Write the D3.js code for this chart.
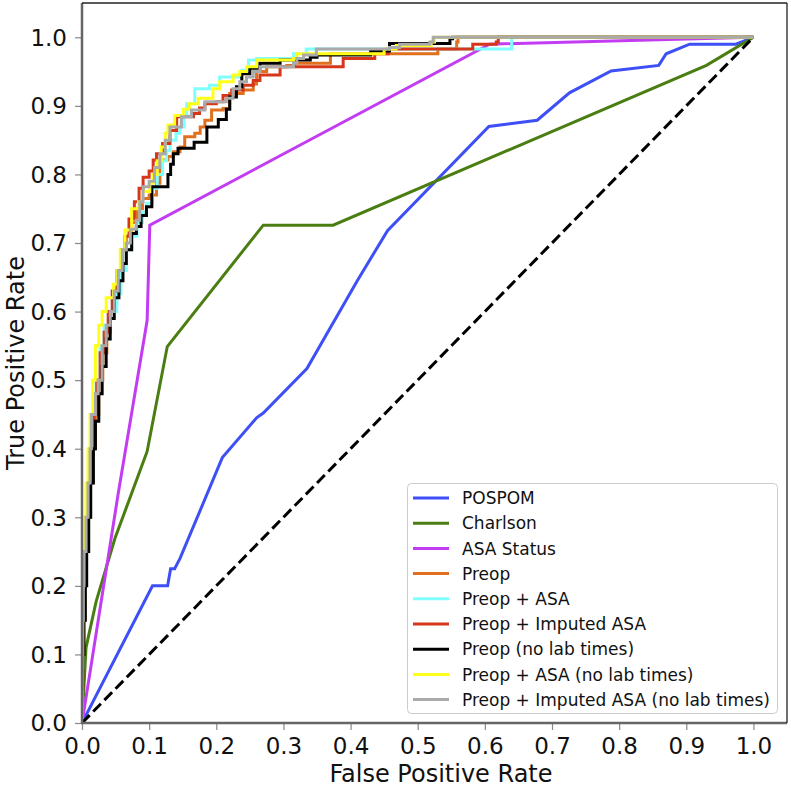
<!DOCTYPE html>
<html><head><meta charset="utf-8">
<script src="https://cdn.jsdelivr.net/npm/d3@7"></script>
<style>body{margin:0;background:#fff}svg{display:block}text{font-family:"DejaVu Sans",sans-serif}</style>
</head><body><svg id="c" width="791" height="787"></svg>
<script>
const tickValues = [0,0.1,0.2,0.3,0.4,0.5,0.6,0.7,0.8,0.9,1.0];
const seriesNames = ["POSPOM","Charlson","ASA Status","Preop","Preop + ASA","Preop + Imputed ASA","Preop (no lab times)","Preop + ASA (no lab times)","Preop + Imputed ASA (no lab times)"];
const seriesColors = ["#3d4ff5","#4a7d12","#c23cf2","#e0701e","#80ffff","#d6361a","#000000","#ffff1a","#aaaaaa"];

const pospom = [[0,0],[0.105,0.2],[0.1275,0.2],[0.132,0.225],[0.138,0.225],[0.146,0.24],[0.209,0.387],[0.26,0.445],[0.27,0.452],[0.335,0.517],[0.41,0.645],[0.455,0.718],[0.606,0.87],[0.678,0.879],[0.726,0.919],[0.788,0.951],[0.859,0.959],[0.87,0.976],[0.905,0.99],[0.974,0.99],[1,1]];
const charlson = [[0,0],[0.006,0.11],[0.021,0.177],[0.049,0.269],[0.097,0.396],[0.127,0.549],[0.27,0.726],[0.374,0.726],[0.93,0.959],[1,1]];
const asaStatus = [[0,0],[0.054,0.335],[0.097,0.587],[0.101,0.726],[0.607,0.99],[1,1]];

const preop = [[0,0],[0,0.05],[0.001,0.1],[0.002,0.15],[0.004,0.2],[0.006,0.25],[0.009,0.3],[0.012,0.35],[0.016,0.4],[0.02,0.45],[0.025,0.5],[0.031,0.54],[0.037,0.57],[0.042,0.6],[0.048,0.63],[0.054,0.66],[0.06,0.69],[0.066,0.71],[0.074,0.73],[0.082,0.75],[0.09,0.765],[0.1,0.77],[0.111,0.787],[0.116,0.821],[0.128,0.826],[0.136,0.833],[0.146,0.84],[0.153,0.855],[0.168,0.86],[0.176,0.869],[0.183,0.879],[0.193,0.894],[0.21,0.896],[0.22,0.918],[0.24,0.923],[0.255,0.932],[0.26,0.95],[0.275,0.957],[0.305,0.959],[0.317,0.962],[0.37,0.976],[0.53,0.983],[0.558,0.993],[0.56,1.0],[1,1]];
const preopAsa = [[0,0],[0,0.08],[0.001,0.15],[0.002,0.2],[0.003,0.25],[0.005,0.3],[0.008,0.35],[0.012,0.4],[0.016,0.45],[0.021,0.5],[0.027,0.55],[0.033,0.58],[0.04,0.6],[0.052,0.626],[0.058,0.66],[0.066,0.69],[0.074,0.71],[0.082,0.73],[0.09,0.745],[0.096,0.758],[0.105,0.78],[0.112,0.8],[0.12,0.82],[0.126,0.835],[0.131,0.85],[0.14,0.86],[0.146,0.869],[0.152,0.885],[0.156,0.903],[0.168,0.925],[0.19,0.93],[0.205,0.942],[0.238,0.952],[0.248,0.967],[0.26,0.969],[0.315,0.976],[0.334,0.983],[0.63,0.983],[0.64,1.0],[1,1]];
const preopImp = [[0,0],[0,0.1],[0.001,0.21],[0.003,0.25],[0.006,0.3],[0.009,0.35],[0.013,0.4],[0.018,0.45],[0.022,0.5],[0.027,0.54],[0.033,0.57],[0.039,0.6],[0.045,0.63],[0.052,0.66],[0.058,0.69],[0.064,0.71],[0.07,0.735],[0.078,0.76],[0.085,0.78],[0.091,0.796],[0.1,0.805],[0.106,0.821],[0.111,0.83],[0.12,0.845],[0.131,0.864],[0.141,0.884],[0.166,0.889],[0.175,0.897],[0.183,0.903],[0.2,0.906],[0.21,0.915],[0.223,0.923],[0.24,0.93],[0.255,0.937],[0.265,0.945],[0.295,0.957],[0.389,0.969],[0.436,0.976],[0.456,0.983],[0.582,0.99],[0.617,0.993],[0.62,1.0],[1,1]];
const preopNoLab = [[0,0],[0,0.05],[0.001,0.1],[0.003,0.15],[0.005,0.2],[0.007,0.25],[0.01,0.3],[0.013,0.35],[0.017,0.4],[0.02,0.44],[0.025,0.48],[0.03,0.52],[0.036,0.56],[0.042,0.59],[0.048,0.62],[0.055,0.645],[0.061,0.67],[0.066,0.69],[0.074,0.714],[0.081,0.724],[0.088,0.74],[0.096,0.753],[0.104,0.782],[0.128,0.8],[0.132,0.815],[0.136,0.83],[0.143,0.838],[0.167,0.847],[0.186,0.869],[0.203,0.88],[0.215,0.895],[0.22,0.913],[0.23,0.928],[0.238,0.947],[0.25,0.955],[0.265,0.962],[0.295,0.967],[0.34,0.971],[0.35,0.974],[0.43,0.98],[0.458,0.991],[0.548,0.998],[0.552,1.0],[1,1]];
const preopAsaNoLab = [[0,0],[0,0.1],[0.001,0.2],[0.002,0.25],[0.004,0.3],[0.006,0.35],[0.009,0.4],[0.012,0.45],[0.016,0.5],[0.02,0.55],[0.025,0.58],[0.03,0.6],[0.036,0.62],[0.047,0.64],[0.052,0.66],[0.057,0.69],[0.064,0.719],[0.074,0.75],[0.084,0.76],[0.09,0.775],[0.101,0.787],[0.106,0.8],[0.112,0.82],[0.118,0.84],[0.124,0.86],[0.128,0.872],[0.138,0.886],[0.151,0.895],[0.16,0.903],[0.173,0.911],[0.195,0.925],[0.205,0.935],[0.225,0.945],[0.235,0.95],[0.245,0.957],[0.26,0.967],[0.315,0.969],[0.32,0.976],[0.45,0.983],[0.468,0.988],[0.52,0.993],[0.525,1.0],[1,1]];
const preopImpNoLab = [[0,0],[0,0.1],[0.001,0.15],[0.002,0.2],[0.003,0.25],[0.006,0.3],[0.009,0.35],[0.012,0.4],[0.014,0.45],[0.02,0.48],[0.024,0.5],[0.03,0.55],[0.036,0.58],[0.042,0.6],[0.048,0.63],[0.054,0.66],[0.06,0.69],[0.066,0.7],[0.072,0.72],[0.081,0.733],[0.086,0.76],[0.091,0.782],[0.1,0.79],[0.108,0.81],[0.116,0.83],[0.124,0.85],[0.131,0.869],[0.148,0.884],[0.163,0.894],[0.183,0.906],[0.215,0.911],[0.225,0.925],[0.235,0.935],[0.245,0.942],[0.255,0.95],[0.265,0.957],[0.315,0.962],[0.32,0.969],[0.33,0.974],[0.349,0.983],[0.458,0.985],[0.473,0.99],[0.518,0.993],[0.523,1.0],[1,1]];
const chance = [[0,0],[1,1]];

const seriesData = [pospom,charlson,asaStatus,preop,preopAsa,preopImp,preopNoLab,preopAsaNoLab,preopImpNoLab];
const stepped = [false,false,false,true,true,true,true,true,true];

const svg = d3.select("#c");
const x = d3.scaleLinear().domain([0,1.05]).range([82,787]);
const y = d3.scaleLinear().domain([0,1.05]).range([723,3]);

// axes
const gx = svg.append("g").attr("transform","translate(0,723)")
  .call(d3.axisBottom(x).tickValues(tickValues).tickFormat(d3.format(".1f")).tickSize(7).tickPadding(8));
const gy = svg.append("g").attr("transform","translate(82,0)")
  .call(d3.axisLeft(y).tickValues(tickValues).tickFormat(d3.format(".1f")).tickSize(7).tickPadding(8));
[gx,gy].forEach(g=>{
  g.select(".domain").remove();
  g.selectAll(".tick line").attr("stroke","#888").attr("stroke-width",1.2);
  g.selectAll(".tick text").attr("fill","#111").style("font-size","23px").style("font-family","DejaVu Sans");
});
gy.selectAll(".tick text").attr("dy","0.34em");

// curves
svg.append("clipPath").attr("id","clip").append("rect").attr("x",82).attr("y",3).attr("width",705).attr("height",720);
const plot = svg.append("g").attr("clip-path","url(#clip)");
seriesData.forEach((d,i)=>{
  const line = d3.line().x(p=>x(p[0])).y(p=>y(p[1])).curve(stepped[i]?d3.curveStepAfter:d3.curveLinear);
  plot.append("path").datum(d).attr("d",line).attr("fill","none")
    .attr("stroke",seriesColors[i]).attr("stroke-width",3).attr("stroke-linejoin","miter");
});
plot.append("path").datum(chance).attr("d",d3.line().x(p=>x(p[0])).y(p=>y(p[1])))
  .attr("fill","none").attr("stroke","#000").attr("stroke-width",3).attr("stroke-dasharray","11,5");

// spines
svg.append("line").attr("x1",82).attr("x2",82).attr("y1",3).attr("y2",723).attr("stroke","#666").attr("stroke-width",2.5);
svg.append("line").attr("x1",81).attr("x2",787).attr("y1",723).attr("y2",723).attr("stroke","#666").attr("stroke-width",2.5);
svg.append("line").attr("x1",82).attr("x2",787).attr("y1",3).attr("y2",3).attr("stroke","#222").attr("stroke-width",1.3);
svg.append("line").attr("x1",787).attr("x2",787).attr("y1",3).attr("y2",723).attr("stroke","#222").attr("stroke-width",1.3);

// axis labels
svg.append("text").attr("x",441).attr("y",782).attr("text-anchor","middle").style("font-size","24px").attr("fill","#111").text("False Positive Rate");
svg.append("text").attr("transform","translate(24,363) rotate(-90)").attr("text-anchor","middle").style("font-size","24px").attr("fill","#111").text("True Positive Rate");

// legend
const lg = svg.append("g");
lg.append("rect").attr("x",407.5).attr("y",483.5).attr("width",370).attr("height",230).attr("rx",4)
  .attr("fill","#fff").attr("fill-opacity",0.85).attr("stroke","#cccccc").attr("stroke-width",1);
seriesNames.forEach((n,i)=>{
  const yy = 498 + i*25.2;
  lg.append("line").attr("x1",413).attr("x2",449).attr("y1",yy).attr("y2",yy).attr("stroke",seriesColors[i]).attr("stroke-width",3);
  lg.append("text").attr("x",462).attr("y",yy).attr("dy","0.36em").style("font-size","17px").attr("fill","#111").text(n);
});
</script></body></html>
